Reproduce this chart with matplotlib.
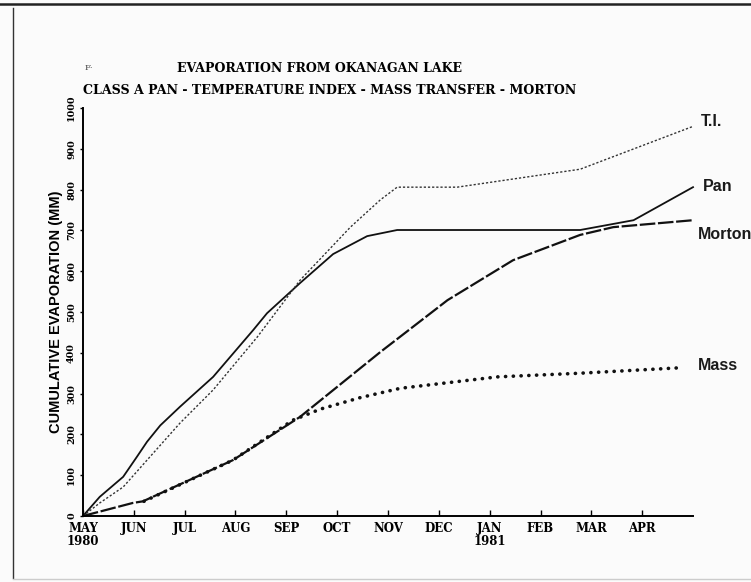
import numpy as np
import matplotlib
matplotlib.use('Agg')
import matplotlib.pyplot as plt
from matplotlib.lines import Line2D

# valores (meses desde MAY 1980, mm acumulados)
meses = ['MAY\n1980', 'JUN', 'JUL', 'AUG', 'SEP', 'OCT', 'NOV',
         'DEC', 'JAN\n1981', 'FEB', 'MAR', 'APR']
y_ticks = [0, 100, 200, 300, 400, 500, 600, 700, 800, 900, 1000]

pan_x = [0, 0.33, 0.79, 1.06, 1.26, 1.52, 1.91, 2.56, 3.35, 3.62, 4.27, 4.92, 5.59, 6.18, 9.78, 10.83, 12.0]
pan_y = [0, 47, 96, 145, 182, 222, 268, 341, 456, 497, 571, 642, 686, 701, 701, 725, 806]

ti_x = [0, 0.33, 0.79, 1.26, 1.91, 2.56, 3.43, 4.27, 5.26, 5.85, 6.18, 7.36, 9.78, 12.0]
ti_y = [0, 32, 71, 137, 228, 309, 439, 578, 708, 775, 806, 806, 850, 955]

morton_x = [0, 0.98, 1.18, 2.95, 4.27, 5.85, 7.17, 8.46, 9.78, 10.43, 12.0]
morton_y = [0, 32, 36, 137, 243, 402, 529, 627, 689, 708, 725]

mass_x = [1.2, 2.95, 4.13, 4.67, 5.45, 6.24, 8.15, 9.78, 11.7]
mass_y = [36, 137, 235, 262, 290, 313, 341, 350, 363]

fig = plt.figure(figsize=(7.51, 5.82), dpi=100, facecolor='#fbfbfb')
ax = fig.add_axes([0.1105, 0.1134, 0.8123, 0.701])
ax.set_facecolor('none')

ax.plot(pan_x, pan_y, '-', color='#111111', lw=1.3, clip_on=False)
ax.plot(ti_x, ti_y, color='#333333', lw=1.0, linestyle=(0, (1.6, 1.4)), clip_on=False)
ax.plot(morton_x, morton_y, color='#111111', lw=1.6, linestyle=(0, (7, 1.2)), clip_on=False)
ax.plot(mass_x, mass_y, color='#111111', lw=2.6, linestyle=(0, (0.05, 2.1)),
        dash_capstyle='round', clip_on=False)

# etiquetas de cada serie
etiq = dict(fontsize=11.5, fontweight='bold', va='center', family='Liberation Sans', color='#1a1a1a')
ax.text(12.15, 968, 'T.I.', **etiq)
ax.text(12.2, 807, 'Pan', **etiq)
ax.text(12.09, 689, 'Morton', **etiq)
ax.text(12.1, 368, 'Mass', **etiq)

ax.set_xlim(0, 12)
ax.set_ylim(0, 1000)
ax.spines['top'].set_visible(False)
ax.spines['right'].set_visible(False)
ax.spines['left'].set_linewidth(1.4)
ax.spines['bottom'].set_linewidth(1.4)

ax.set_xticks(np.arange(12))
ax.set_xticklabels(meses, fontsize=8.5, fontweight='bold', family='DejaVu Serif',
                   linespacing=1.0)
ax.tick_params(axis='x', direction='in', length=4, width=1, pad=4)
ax.set_yticks(y_ticks)
ax.set_yticklabels([str(v) for v in y_ticks], rotation=90, fontsize=6.8,
                   fontweight='bold', family='DejaVu Serif', va='center')
ax.tick_params(axis='y', direction='out', length=2, width=1, pad=3)
ax.set_ylabel('CUMULATIVE EVAPORATION (MM)', fontsize=10.5, fontweight='bold',
              family='Liberation Sans', labelpad=3)

fig.text(177 / 751, 1 - 69 / 582, 'EVAPORATION FROM OKANAGAN LAKE', fontsize=9,
         fontweight='bold', family='DejaVu Serif', va='center')
fig.text(83 / 751, 1 - 90 / 582, 'CLASS A PAN - TEMPERATURE INDEX - MASS TRANSFER - MORTON',
         fontsize=9.1, fontweight='bold', family='DejaVu Serif', va='center')
fig.text(85 / 751, 1 - 68 / 582, 'F·', fontsize=6, family='DejaVu Serif', va='center',
         color='#444444')

# bordes de la hoja escaneada
fig.add_artist(Line2D([0, 1], [1 - 4 / 582, 1 - 4 / 582], color='#222222', lw=1.8))
fig.add_artist(Line2D([13 / 751, 13 / 751], [1 - 8 / 582, 1 - 578 / 582], color='#333333', lw=1.0))
fig.add_artist(Line2D([13 / 751, 1], [1 - 579 / 582, 1 - 579 / 582], color='#cccccc', lw=1.0))

fig.savefig('out.png', dpi=100, facecolor=fig.get_facecolor())
